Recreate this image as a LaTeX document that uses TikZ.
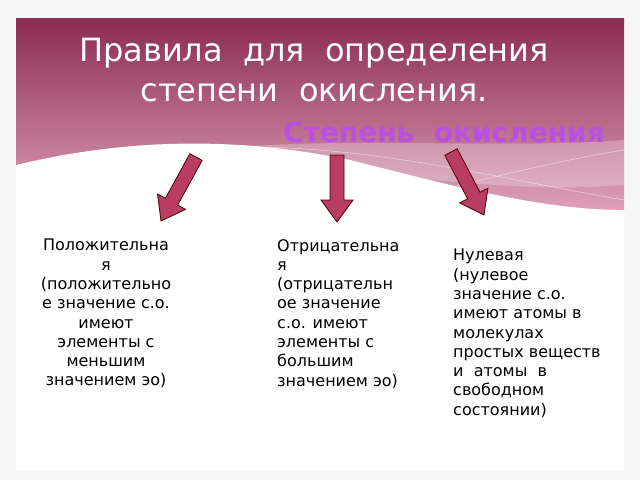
\documentclass[tikz,border=0pt]{standalone}
\usepackage{fontspec}
\usetikzlibrary{calc}
\setmainfont{DejaVu Sans}
\newcommand\myblockarrow[2]{%
  \coordinate (h) at ($(#2)!22pt!(#1)$);
  \draw[barrow] ($(#1)!7pt!90:(#2)$) -- ($(h)!7pt!-90:(#1)$) -- ($(h)!16pt!-90:(#1)$) -- (#2)
    -- ($(h)!16pt!90:(#1)$) -- ($(h)!7pt!90:(#1)$) -- ($(#1)!7pt!-90:(#2)$) -- cycle;}
\begin{document}
\begin{tikzpicture}[x=1pt,y=-1pt,
  body/.style={font=\fontsize{16}{19.3}\selectfont,align=left,anchor=north west,inner sep=0},
  barrow/.style={draw=black!70!red,fill={rgb,255:red,184;green,60;blue,100},line width=0.8pt,line join=miter}]
\useasboundingbox (0,0) rectangle (640,480);
\fill[gray!6] (0,0) rectangle (640,480);
\fill[white] (16,18) rectangle (624,470);
% banner
\shade[top color={rgb,255:red,138;green,44;blue,80},bottom color={rgb,255:red,222;green,160;blue,184}] (16,18) rectangle (624,210);
\fill[white,opacity=0.25] (200,150) .. controls (350,135) and (500,150) .. (624,140) -- (624,185) .. controls (500,195) and (350,170) .. (200,150) -- cycle;
\fill[white] (16,165) .. controls (120,140) and (230,135) .. (350,160) .. controls (450,185) and (540,210) .. (624,210) -- (624,214) -- (16,214) -- cycle;
\draw[white,opacity=0.6,line width=0.5pt] (200,148) .. controls (350,140) and (480,175) .. (624,200);
\draw[white,opacity=0.6,line width=0.5pt] (400,200) .. controls (480,180) and (560,160) .. (624,150);
\node[white,font=\fontsize{32}{40}\selectfont,align=center] (title) at (314,70) {Правила\ \ для\ \ определения\\степени\ \ окисления.};
\node[font=\bfseries\fontsize{28}{30}\selectfont,text={rgb,255:red,185;green,80;blue,225}] (sub) at (444,132) {Степень\ \ окисления};
% arrows
\coordinate (a1) at (196,157); \coordinate (b1) at (161,221);
\coordinate (a2) at (337,155); \coordinate (b2) at (337,222);
\coordinate (a3) at (451,152); \coordinate (b3) at (484,215);
\myblockarrow{a1}{b1}
\myblockarrow{a2}{b2}
\myblockarrow{a3}{b3}
% texts
\node[body,align=center,anchor=north] (t1) at (106,239) {Положительна\\я\\(положительно\\е значение с.о.\\имеют\\элементы с\\меньшим\\значением эо)};
\node[body] (t2) at (277,239) {Отрицательна\\я\\(отрицательн\\ое значение\\с.о. имеют\\элементы с\\большим\\значением эо)};
\node[body] (t3) at (453,249) {Нулевая\\(нулевое\\значение с.о.\\имеют атомы в\\молекулах\\простых веществ\\и\ \ атомы\ \ в\\свободном\\состоянии)};
\end{tikzpicture}
\end{document}
